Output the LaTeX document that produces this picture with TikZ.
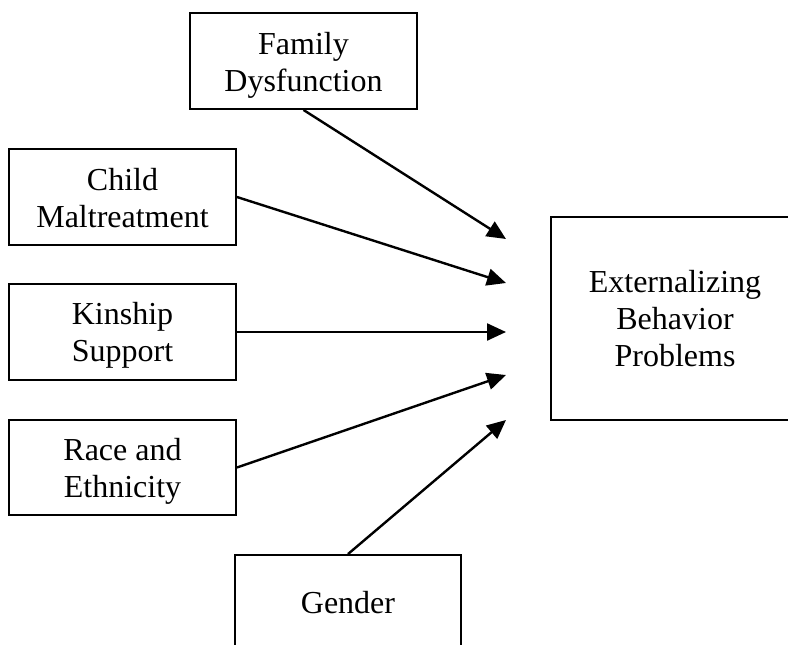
\documentclass[tikz,border=0pt]{standalone}
\usepackage{fontspec}
\setmainfont{Liberation Serif}
\usetikzlibrary{arrows.meta}
\begin{document}
\begin{tikzpicture}[x=1pt,y=-1pt,
  box/.style={draw,line width=1.9pt,minimum width=227pt,minimum height=96pt,inner sep=0pt},
  txt/.style={inner sep=0pt,align=center,font=\fontsize{32}{36.8}\selectfont},
  conn/.style={line width=2.4pt,-{Triangle[length=19pt,width=17pt]}}]
\useasboundingbox (0,0) rectangle (788,645);
\clip (0,0) rectangle (788,645);
\node[box] (fam) at (303.5,61) {};
\node[txt] (famt) at ([yshift=-4pt]fam.center) {Family\\Dysfunction};
\node[box] (child) at (122.5,197) {};
\node[txt] (childt) at ([yshift=-1pt]child.center) {Child\\Maltreatment};
\node[box] (kin) at (122.5,332) {};
\node[txt] (kint) at ([yshift=-3pt]kin.center) {Kinship\\Support};
\node[box,minimum height=95pt] (race) at (122.5,467.5) {};
\node[txt] (racet) at ([yshift=-4pt]race.center) {Race and\\Ethnicity};
\node[box,minimum width=226pt] (gen) at (348,603) {};
\node[txt] (gent) at (gen.center) {Gender};
\node[box,minimum width=248pt,minimum height=203pt] (ext) at (675,318.5) {};
\node[txt] (extt) at (ext.center) {Externalizing\\Behavior\\Problems};
\coordinate (t1) at (506,239);
\coordinate (t2) at (506,283);
\coordinate (t3) at (506,332);
\coordinate (t4) at (506,375);
\coordinate (t5) at (506,420);
\draw[conn] (fam.south) -- (t1);
\draw[conn] (child.east) -- (t2);
\draw[conn] (kin.east) -- (t3);
\draw[conn] (race.east) -- (t4);
\draw[conn] (gen.north) -- (t5);
\end{tikzpicture}
\end{document}
